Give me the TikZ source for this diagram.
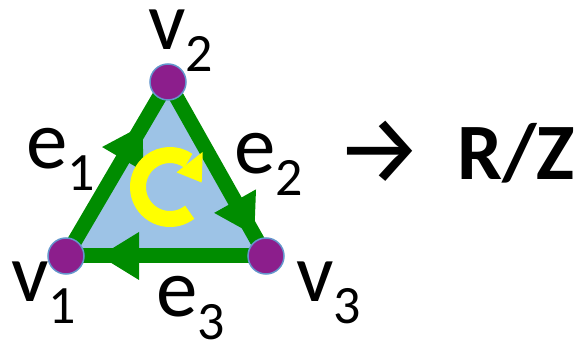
\documentclass[tikz,border=0pt]{standalone}
\usepackage{fontspec}
\setmainfont{Carlito}
\newfontfamily\arrowfont{Fira Sans}
\usetikzlibrary{decorations.markings,backgrounds}
\definecolor{egreen}{RGB}{0,140,0}
\definecolor{vpurple}{RGB}{140,30,140}
\definecolor{vrim}{RGB}{100,150,205}
\definecolor{tblue}{RGB}{157,195,230}
\definecolor{ryellow}{RGB}{255,255,0}
\newcommand\lowsub[1]{\raisebox{-22pt}{\fontsize{54}{54}\selectfont #1}}
\begin{document}
\begin{tikzpicture}[x=1pt,y=1pt,
  vert/.style={circle, fill=vpurple, draw=vrim, line width=1.5pt, minimum size=36pt, inner sep=0pt},
  lbl/.style={anchor=base west, inner sep=0pt, font=\fontsize{83}{83}\selectfont},
  edgeline/.style={draw=egreen, line width=15pt},
  headat/.style={postaction={decorate}, decoration={markings,
      mark=at position #1 with {\fill[egreen] (0,0) -- (-39,24) -- (-39,-24) -- cycle;}}}
  ]
\useasboundingbox (0,0) rectangle (581,340);
% vertices
\node[vert] (v1) at (66,84) {};
\node[vert] (v2) at (168,258) {};
\node[vert] (v3) at (266,84) {};
\begin{scope}[on background layer]
  \fill[tblue] (v1.center) -- (v2.center) -- (v3.center) -- cycle;
  \draw[edgeline, headat=0.75] (v1.center) -- (v2.center);
  \draw[edgeline, headat=0.88] (v2.center) -- (v3.center);
  \draw[edgeline, headat=0.83] (v3.center) -- (v1.center);
\end{scope}
% circulation arrow
\coordinate (rc) at (170,153);
\draw[ryellow, line width=16pt] ([shift={(-52:32)}]rc) arc[start angle=-52, end angle=-305, radius=32];
\fill[ryellow] ([shift={(66:16)}]rc) -- ([shift={(47:48)}]rc) -- ([shift={(8:32)}]rc) -- cycle;
% labels
\node[lbl] (l2) at (148,290) {v\lowsub{2}};
\node[lbl] (l1) at (11,38) {v\lowsub{1}};
\node[lbl] (l3) at (296,38) {v\lowsub{3}};
\node[lbl] (le1) at (26,171) {e\lowsub{1}};
\node[lbl] (le2) at (234,166) {e\lowsub{2}};
\node[lbl] (le3) at (156,23) {e\lowsub{3}};
\node[anchor=base, inner sep=0pt, font=\arrowfont\fontsize{98}{98}\selectfont] (arr) at (380,156) {→};
\node[anchor=base west, inner sep=0pt, font=\bfseries\fontsize{80}{80}\selectfont] (rz) at (457,160) {R/Z};
\end{tikzpicture}
\end{document}
